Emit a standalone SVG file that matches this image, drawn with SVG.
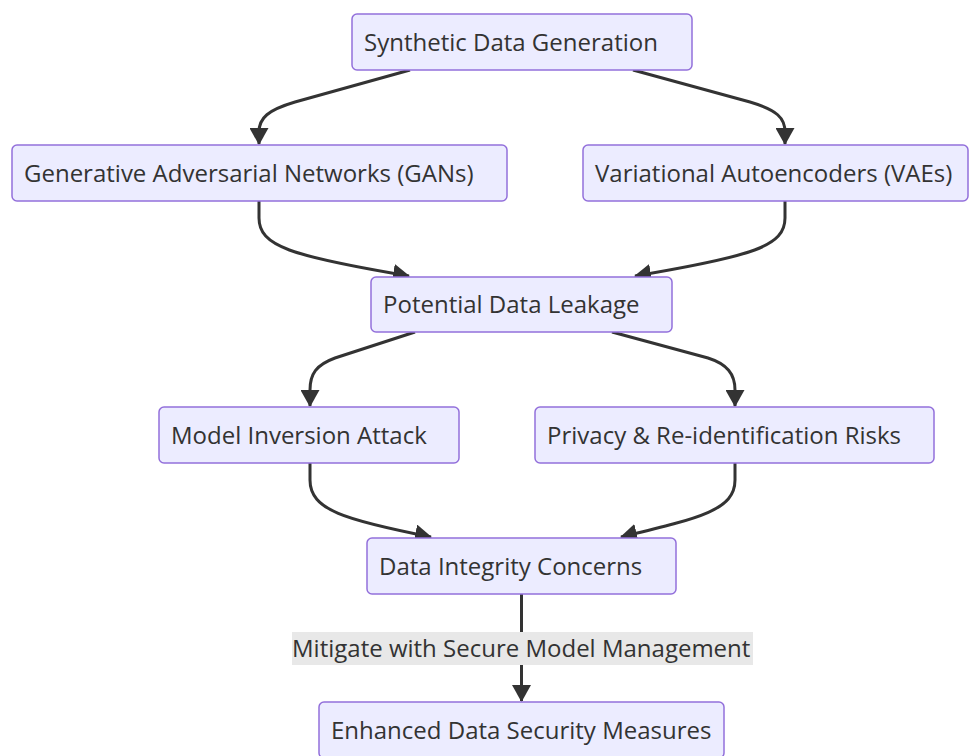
<svg xmlns="http://www.w3.org/2000/svg" width="974" height="756" viewBox="0 0 974 756">
  <defs>
    <marker id="arrow" viewBox="0 0 17 19" refX="16" refY="9.5" markerWidth="17" markerHeight="19" markerUnits="userSpaceOnUse" orient="auto">
      <path d="M0,0 L17,9.5 L0,19 Z" fill="#333333"/>
    </marker>
    <style>
      .node rect { fill: #ECECFF; stroke: #9370DB; stroke-width: 1.5; }
      .node text, .label text { font-family: "Open Sans", "Liberation Sans", sans-serif; font-size: 24px; fill: #333333; }
      .edges path { fill: none; stroke: #333333; stroke-width: 3; marker-end: url(#arrow); }
      .label rect { fill: #E8E8E8; }
    </style>
  </defs>
  <rect width="974" height="756" fill="#FFFFFF"/>

  <g class="edges">
    <path d="M410,70 L295,102 C268,110 259,118 259,132 L259,144"/>
    <path d="M633,70 L750,102 C777,110 785,118 785,132 L785,144"/>
    <path d="M259,201 L259,218 C259,246 290,256 409,276"/>
    <path d="M785,201 L785,218 C785,246 754,256 635,276"/>
    <path d="M415,332 L335,358 C316,365 310,374 310,390 L310,406"/>
    <path d="M612,332 L708,358 C727,364 735,374 735,390 L735,406"/>
    <path d="M310,463 L310,480 C310,510 345,520 431,537"/>
    <path d="M735,463 L735,480 C735,510 700,518 621,537"/>
    <path d="M521.5,594 L521.5,701"/>
  </g>

  <g id="edge-label-mitigate" class="label">
    <rect x="292" y="632" width="461" height="33"/>
    <text x="292" y="657">Mitigate with Secure Model Management</text>
  </g>

  <g id="node-synthetic" class="node">
    <rect x="352" y="14" width="340" height="56" rx="5"/>
    <text x="364" y="51">Synthetic Data Generation</text>
  </g>
  <g id="node-gans" class="node">
    <rect x="12" y="145" width="495" height="56" rx="5"/>
    <text x="24" y="182">Generative Adversarial Networks (GANs)</text>
  </g>
  <g id="node-vaes" class="node">
    <rect x="583" y="145" width="385" height="56" rx="5"/>
    <text x="595" y="182">Variational Autoencoders (VAEs)</text>
  </g>
  <g id="node-leakage" class="node">
    <rect x="371" y="277" width="301" height="55" rx="5"/>
    <text x="383" y="313">Potential Data Leakage</text>
  </g>
  <g id="node-inversion" class="node">
    <rect x="159" y="407" width="300" height="56" rx="5"/>
    <text x="171" y="444">Model Inversion Attack</text>
  </g>
  <g id="node-privacy" class="node">
    <rect x="535" y="407" width="399" height="56" rx="5"/>
    <text x="547" y="444">Privacy &amp; Re-identification Risks</text>
  </g>
  <g id="node-integrity" class="node">
    <rect x="367" y="538" width="309" height="56" rx="5"/>
    <text x="379" y="575">Data Integrity Concerns</text>
  </g>
  <g id="node-enhanced" class="node">
    <rect x="319" y="702" width="405" height="56" rx="5"/>
    <text x="331" y="739">Enhanced Data Security Measures</text>
  </g>
</svg>
